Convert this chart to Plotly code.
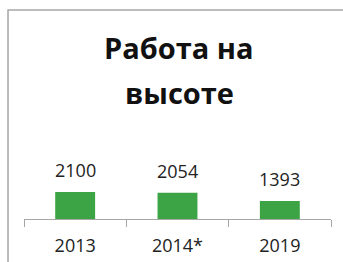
import plotly.graph_objects as go

categories = ["2013", "2014*", "2019"]
values = [2100, 2054, 1393]
value_labels = ["2100", "2054", "1393"]
title_lines = ["Работа на", "высоте"]

BAR_COLOR = "#3ca444"
GREY = "#a6a6a6"
FONT = "Open Sans"

fig = go.Figure()
fig.add_trace(go.Bar(
    x=categories, y=values,
    marker=dict(color=BAR_COLOR, line=dict(width=0)),
    hoverinfo="skip",
))

annotations = []
for i, (v, t) in enumerate(zip(values, value_labels)):
    annotations.append(dict(
        x=i, y=v, xref="x", yref="y", text=t, showarrow=False,
        yanchor="bottom", yshift=8,
        font=dict(family=FONT, size=18, color="#222222"),
    ))

title_y = [2.23, 1.64]
for line, yy in zip(title_lines, title_y):
    annotations.append(dict(
        x=0.505, y=yy, xref="paper", yref="paper", text="<b>" + line + "</b>",
        showarrow=False, xanchor="center", yanchor="middle",
        font=dict(family=FONT, size=29, color="#111111"),
    ))

fig.update_layout(
    width=343, height=262,
    margin=dict(l=24, r=12, t=142, b=43),
    paper_bgcolor="white", plot_bgcolor="white",
    showlegend=False,
    bargap=0.61,
    annotations=annotations,
    shapes=[dict(
        type="rect", xref="paper", yref="paper",
        x0=-0.0521, x1=1.3, y0=-1.2, y1=2.714,
        line=dict(color=GREY, width=1.5), layer="below",
    )],
    xaxis=dict(
        type="category", range=[-0.5, 2.5], showline=True, linecolor=GREY, linewidth=1,
        ticks="outside", tickson="boundaries", ticklen=7, tickcolor=GREY,
        tickwidth=1, showgrid=False, tickangle=0, ticklabelstandoff=10,
        automargin=False,
        tickfont=dict(family=FONT, size=18, color="#222222"),
    ),
    yaxis=dict(range=[0, 6000], visible=False, showgrid=False, zeroline=False,
               automargin=False),
)

fig.write_html("out.html", config={"displayModeBar": False},
               post_script="document.body.style.margin='0px';")
